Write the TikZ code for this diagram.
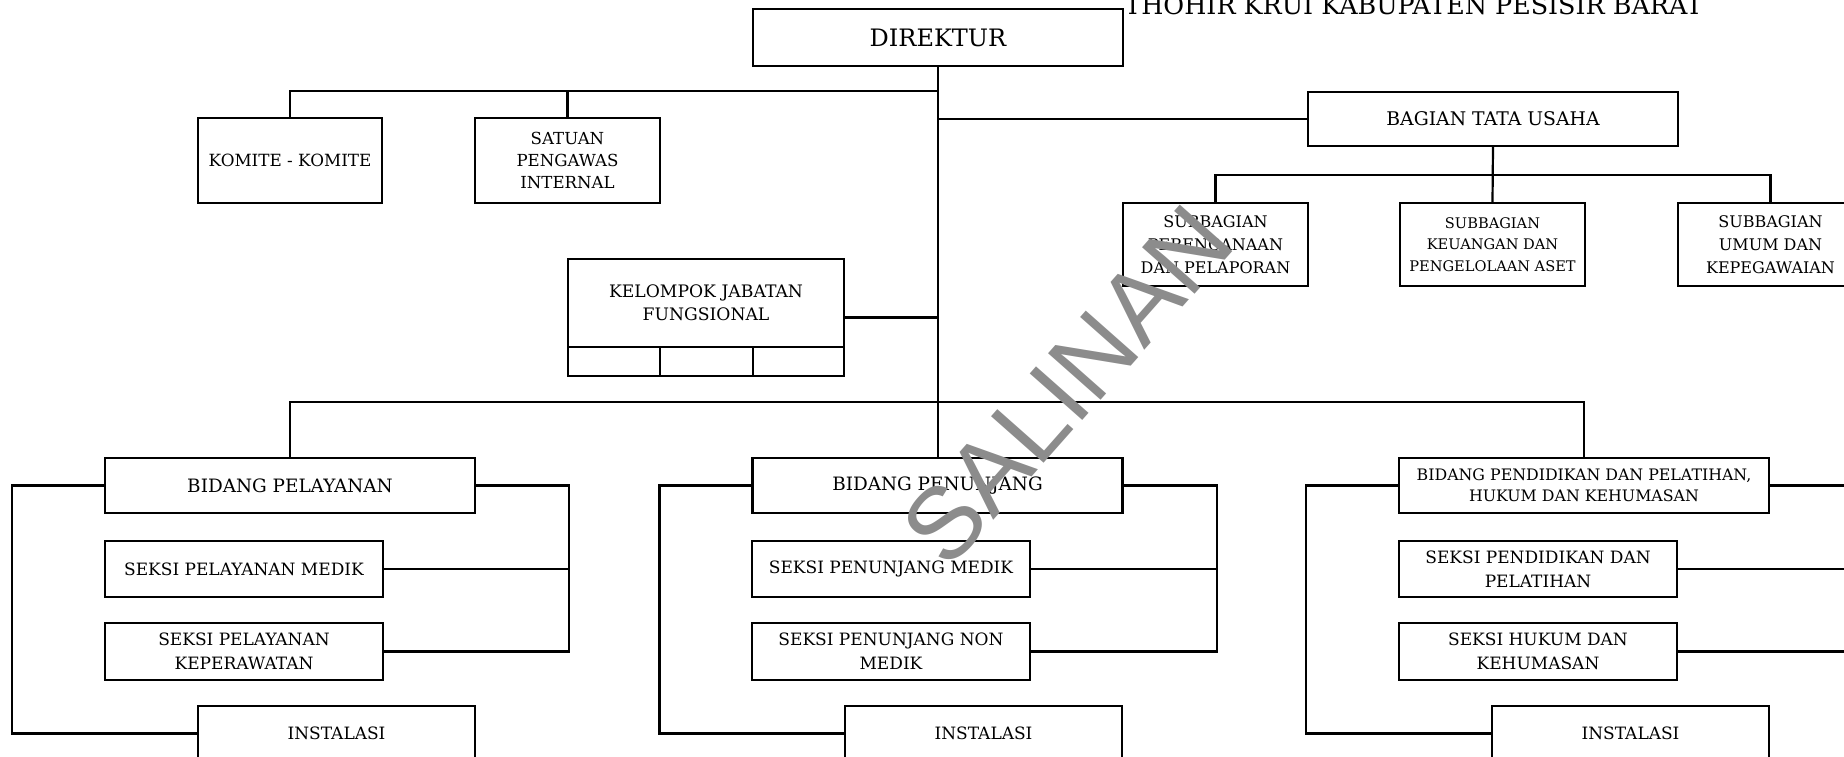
\documentclass[tikz,border=0pt]{standalone}
\usepackage{fontspec}
\setmainfont{DejaVu Serif}
\setsansfont{Liberation Sans}
\newcommand\myfs[2]{\fontsize{#1}{#2}\selectfont}
\tikzset{
  bx/.style={draw, line width=1.1pt, inner sep=0pt, align=center, font=\myfs{8.5}{12}},
  ln/.style={line width=1.1pt},
  bidbox/.style={bx, minimum width=185pt, minimum height=27.5pt, font=\myfs{9.2}{12}},
  sekbox/.style={bx, minimum width=139pt, minimum height=28pt},
  instbox/.style={bx, minimum width=138.5pt, minimum height=27.5pt},
  subbox/.style={bx, minimum width=92.5pt, minimum height=41.5pt, font=\myfs{8}{11.5}},
}
\begin{document}
\begin{tikzpicture}[x=0.5pt,y=-0.5pt]
\useasboundingbox (0,0) rectangle (1844,756);
\clip (0,0) rectangle (1844,756);

% title (cut off at top)
\node[anchor=base west, inner sep=0pt, font=\myfs{12.7}{15}] (title) at (1124,14) {THOHIR KRUI KABUPATEN PESISIR BARAT};

% top level
\node[bx, minimum width=185pt, minimum height=28.5pt, font=\myfs{12}{14}] (dir) at (938,37.5) {DIREKTUR};
\node[bx, minimum width=92pt, minimum height=42.5pt, font=\myfs{8.4}{11.2}] (kom) at (290,160.5) {KOMITE - KOMITE};
\node[bx, minimum width=92.5pt, minimum height=42.5pt, font=\myfs{8.3}{11.2}] (spi) at (567.5,160.5) {SATUAN\\PENGAWAS\\INTERNAL};
\node[bidbox, minimum height=27pt, font=\myfs{9.4}{12}] (tu) at (1493,119) {BAGIAN TATA USAHA};
\node[subbox] (sub1) at (1215.5,244.5) {SUBBAGIAN\\PERENCANAAN\\DAN PELAPORAN};
\node[subbox, font=\myfs{7.3}{10.8}] (sub2) at (1492.5,244.5) {SUBBAGIAN\\KEUANGAN DAN\\PENGELOLAAN ASET};
\node[subbox] (sub3) at (1770.5,244.5) {SUBBAGIAN\\UMUM DAN\\KEPEGAWAIAN};

% kelompok jabatan fungsional
\node[bx, minimum width=138pt, minimum height=58.5pt] (kel) at (706,317.5) {};
\node[inner sep=0pt, align=center, font=\myfs{8.6}{11.5}] (keltxt) at (706,303) {KELOMPOK JABATAN\\FUNGSIONAL};
\node[bx, minimum width=46pt, minimum height=14.5pt] (k1) at (614,361.5) {};
\node[bx, minimum width=46.5pt, minimum height=14.5pt] (k2) at (706.5,361.5) {};
\node[bx, minimum width=45.5pt, minimum height=14.5pt] (k3) at (798.5,361.5) {};

% columns
\node[bidbox] (bidA) at (290,485.5) {BIDANG PELAYANAN};
\node[sekbox] (s1A) at (244,569) {SEKSI PELAYANAN MEDIK};
\node[sekbox, minimum height=28.5pt] (s2A) at (244,651.5) {SEKSI PELAYANAN\\KEPERAWATAN};
\node[instbox] (instA) at (336.5,733.5) {INSTALASI};

\node[bidbox] (bidB) at (937.5,485.5) {BIDANG PENUNJANG};
\node[sekbox] (s1B) at (891,569) {SEKSI PENUNJANG MEDIK};
\node[sekbox, minimum height=28.5pt] (s2B) at (891,651.5) {SEKSI PENUNJANG NON\\MEDIK};
\node[instbox] (instB) at (983.5,733.5) {INSTALASI};

\node[bidbox, font=\myfs{7.9}{10.5}] (bidC) at (1584,485.5) {BIDANG PENDIDIKAN DAN PELATIHAN,\\HUKUM DAN KEHUMASAN};
\node[sekbox] (s1C) at (1538,569) {SEKSI PENDIDIKAN DAN\\PELATIHAN};
\node[sekbox, minimum height=28.5pt] (s2C) at (1538,651.5) {SEKSI HUKUM DAN\\KEHUMASAN};
\node[instbox] (instC) at (1630.5,733.5) {INSTALASI};

% connectors top
\draw[ln] (dir.south) -- (dir.south |- bidB.north);
\draw[ln] (kom.north) -- ++(0,-26) -| (dir.south);
\draw[ln] (spi.north) -- ++(0,-26);
\draw[ln] (tu.west) -- (tu.west -| dir.south);
\draw[ln] (tu.south) -- (sub2.north);
\draw[ln] (sub1.north) -- ++(0,-27) -| (sub3.north);
\draw[ln] (kel.east) -- (kel.east -| dir.south);
\draw[ln] (bidA.north) -- ++(0,-55) -| (bidC.north);

% column brackets
\foreach \c in {A,B,C}{
  \draw[ln] (bid\c.west) -- ++(-92,0) |- (inst\c.west);
  \draw[ln] (bid\c.east) -- ++(93,0) |- (s2\c.east);
  \draw[ln] (s1\c.east) -- ++(185,0);
}

% watermark
\node[rotate=48.5, inner sep=0pt, text=black!45, font=\sffamily\myfs{51}{51}] (wm) at (1067,385) {SALINAN};
\end{tikzpicture}
\end{document}
